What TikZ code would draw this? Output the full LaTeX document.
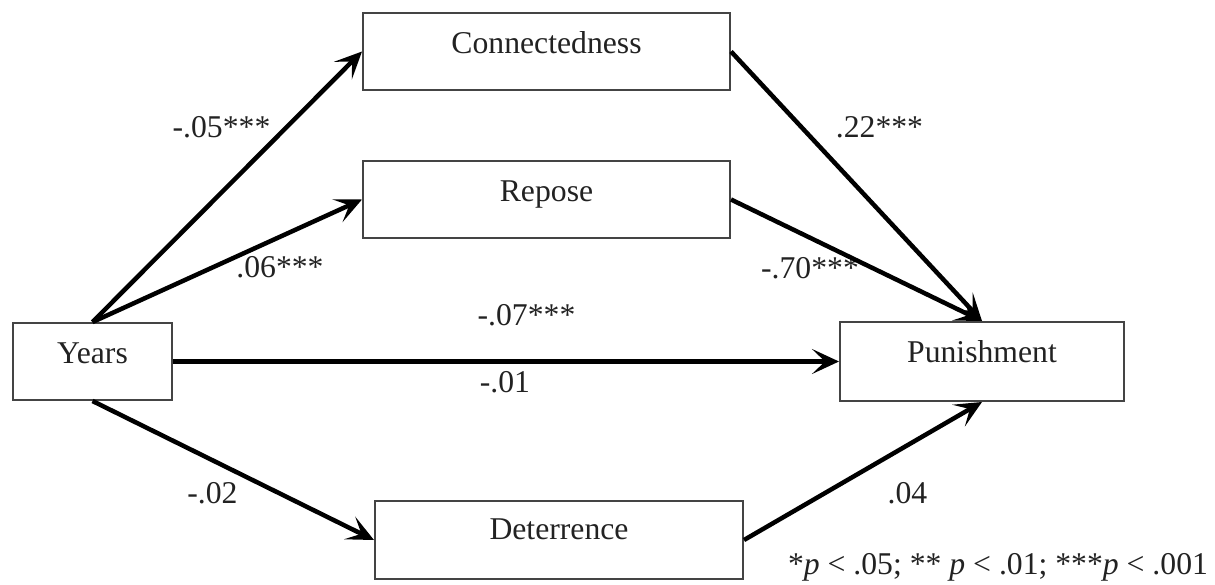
\documentclass[tikz,border=0pt]{standalone}
\usepackage{fontspec}
\setmainfont{Liberation Serif}
\usetikzlibrary{arrows.meta}
\definecolor{boxgray}{HTML}{444444}
\definecolor{textgray}{HTML}{222222}
\begin{document}
\begin{tikzpicture}[x=1pt,y=-1pt,
  font=\fontsize{31.7pt}{38pt}\selectfont,
  box/.style={draw=boxgray,line width=2pt,inner sep=0pt,anchor=north west,text height=40pt,text depth=37pt,text=textgray},
  coef/.style={anchor=base,inner sep=0pt,text=textgray},
  link/.style={line width=4.5pt,-{Stealth[length=27pt,width=25pt,inset=13pt]}}]
\useasboundingbox (0,0) rectangle (1215,584);

% boxes
\node[box,minimum width=367pt] (conn) at (362,12) {Connectedness};
\node[box,minimum width=367pt] (rep) at (362,160) {Repose};
\node[box,minimum width=159pt] (years) at (12,322) {Years};
\node[box,minimum width=284pt,text depth=39pt] (pun) at (839,321) {Punishment};
\node[box,minimum width=368pt,text height=38pt,text depth=40pt] (det) at (374,500) {Deterrence};

% coefficients
\node[coef] (c1) at (221.5,137) {-.05***};
\node[coef] (c2) at (280,277) {.06***};
\node[coef] (c3) at (879.5,137) {.22***};
\node[coef] (c4) at (810,278) {-.70***};
\node[coef] (c5) at (526.5,325) {-.07***};
\node[coef] (c6) at (505,392) {-.01};
\node[coef] (c7) at (212.5,503) {-.02};
\node[coef] (c8) at (907.5,503) {.04};
\node[coef] (note) at (998,574) {*\textit{p} < .05; ** \textit{p} < .01; ***\textit{p} < .001};

% connectors
\draw[link] (years.north) -- (conn.west);
\draw[link] (years.north) -- (rep.west);
\draw[link] (years.east) -- (pun.west);
\draw[link] (years.south) -- (det.west);
\draw[link] (conn.east) -- (pun.north);
\draw[link] (rep.east) -- (pun.north);
\draw[link] (det.east) -- (pun.south);
\end{tikzpicture}
\end{document}
